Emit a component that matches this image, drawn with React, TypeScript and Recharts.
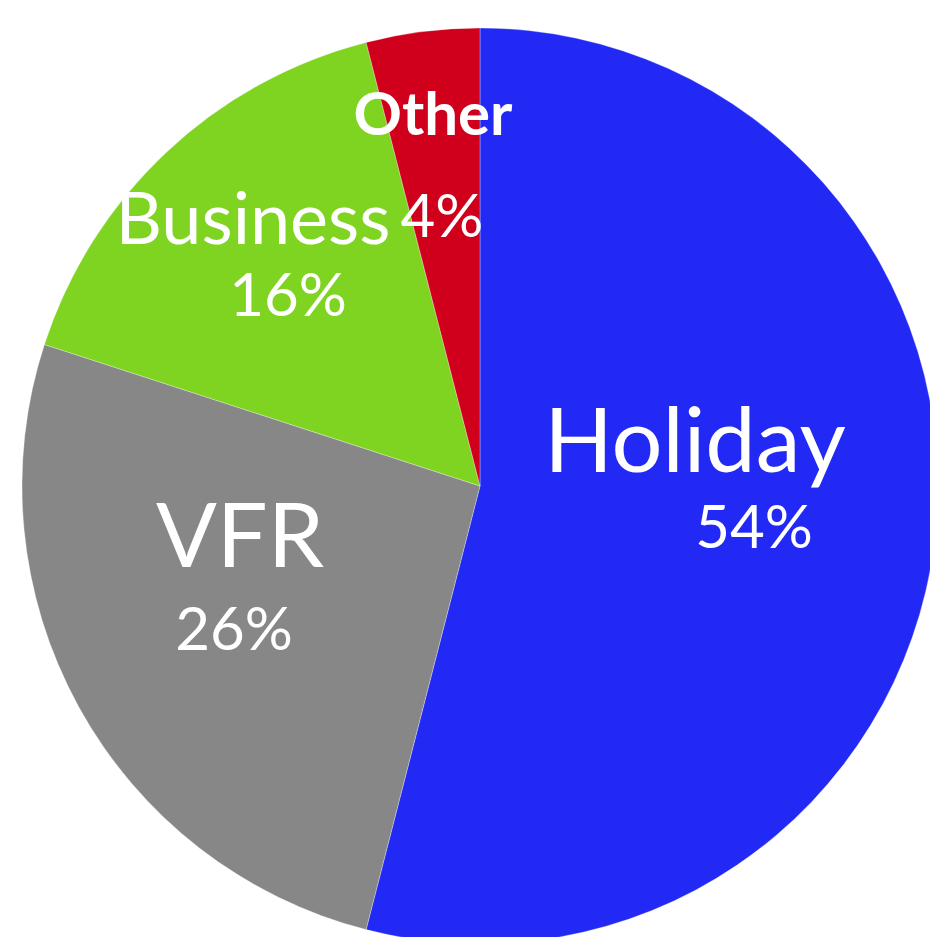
import { PieChart, Pie, Cell } from "recharts";

// trip purpose share
const purposes = ["Holiday", "VFR", "Business", "Other"];
const shares = [54, 26, 16, 4];
const sliceColors = ["#2329F4", "#878787", "#7FD321", "#D0001C"];

const data = purposes.map((name, i) => ({ name, value: shares[i] }));

// label placement relative to pie centre
const labelLayout: Record<
  string,
  { nx: number; ny: number; nSize: number; bold?: boolean; px: number; py: number }
> = {
  Holiday: { nx: 215, ny: -14, nSize: 90, px: 274, py: 62 },
  VFR: { nx: -240, ny: 81, nSize: 90, px: -246, py: 164 },
  Business: { nx: -227, ny: -242, nSize: 72, px: -192, py: -170 },
  Other: { nx: -47, ny: -351, nSize: 60, bold: true, px: -38, py: -249 },
};

const renderLabel = (props: any) => {
  const { cx, cy, name, percent } = props;
  const l = labelLayout[name];
  if (!l) return null;
  return (
    <g>
      <text
        x={cx + l.nx}
        y={cy + l.ny}
        textAnchor="middle"
        fill="#ffffff"
        fontSize={l.nSize}
        fontWeight={l.bold ? 700 : 400}
        fontFamily="Lato, sans-serif"
      >
        {name}
      </text>
      <text
        x={cx + l.px}
        y={cy + l.py}
        textAnchor="middle"
        fill="#ffffff"
        fontSize={60}
        fontFamily="Lato, sans-serif"
      >
        {`${Math.round(percent * 100)}%`}
      </text>
    </g>
  );
};

export default function App() {
  return (
    <div
      style={{
        position: "absolute",
        top: 0,
        left: 0,
        width: 930,
        height: 937,
        background: "#ffffff",
        overflow: "hidden",
      }}
    >
      <PieChart
        width={930}
        height={937}
        margin={{ top: 0, right: 0, bottom: 0, left: 0 }}
      >
        <Pie
          data={data}
          dataKey="value"
          nameKey="name"
          cx={480}
          cy={486}
          outerRadius={458}
          startAngle={90}
          endAngle={-270}
          label={renderLabel}
          labelLine={false}
          stroke="rgba(255,255,255,0.5)"
          strokeWidth={0.6}
          isAnimationActive={false}
        >
          {data.map((d, i) => (
            <Cell key={d.name} fill={sliceColors[i]} />
          ))}
        </Pie>
      </PieChart>
    </div>
  );
}
